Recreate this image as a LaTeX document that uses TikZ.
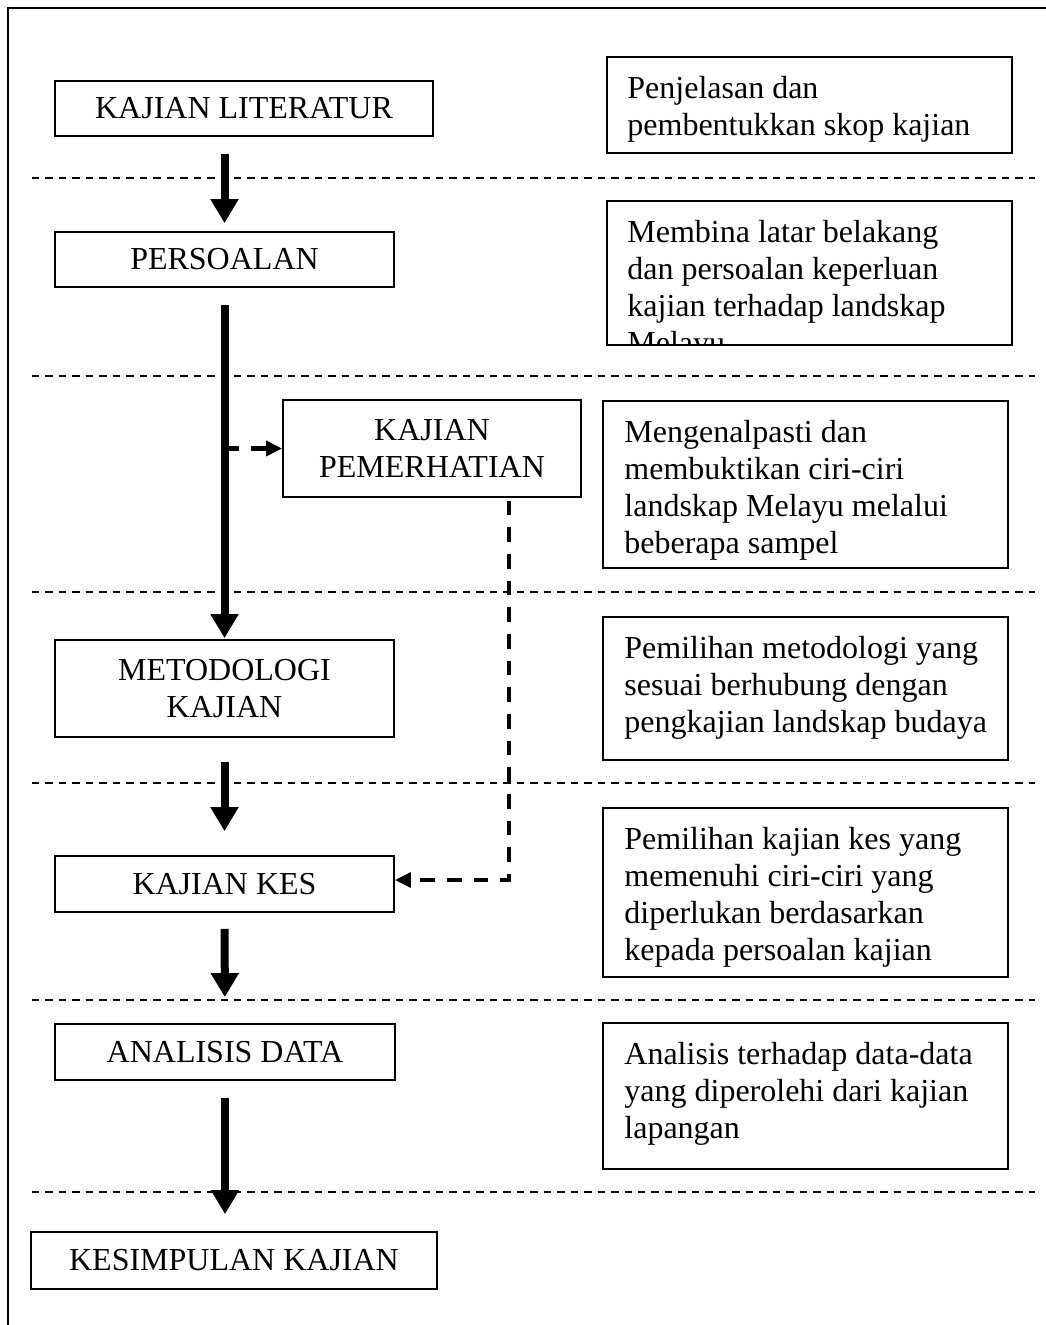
\documentclass[tikz,border=0pt]{standalone}
\usepackage{fontspec}
\setmainfont{Liberation Serif}
\usetikzlibrary{arrows.meta}
\begin{document}
\begin{tikzpicture}[x=0.75pt,y=-0.75pt,font=\fontsize{24pt}{27.75pt}\selectfont,
	kotak/.style={draw,line width=1.3pt,inner sep=0pt,align=center},
	nota/.style={draw,line width=1.3pt,inner sep=0pt,minimum width=303.75pt},
	teks/.style={inner sep=0pt,anchor=north west,align=left},
	panah/.style={line width=6pt,-{Triangle[length=18pt,width=20pt]}},
	putus/.style={line width=3.5pt,dash pattern=on 11pt off 9pt,-{Triangle[length=12pt,width=11pt]}},
	garis/.style={line width=1.2pt,dash pattern=on 5.6pt off 4.5pt}]
	\useasboundingbox (0,0) rectangle (1046,1325);
	\draw[line width=1.5pt] (8,1325) -- (8,8) -- (1046,8);
	% garis pemisah
	\foreach \y in {178,376,592,783,1000,1192}
		\draw[garis] (32,\y) -- (1035,\y);
	% kotak kiri
	\node[kotak,minimum width=283.5pt,minimum height=41.25pt] (lit) at (244,108.5) {KAJIAN LITERATUR};
	\node[kotak,minimum width=254.25pt,minimum height=41.25pt] (soal) at (224.5,259.5) {PERSOALAN};
	\node[kotak,minimum width=223.5pt,minimum height=72.75pt] (pemer) at (432,448.5) {KAJIAN\\PEMERHATIAN};
	\node[kotak,minimum width=254.25pt,minimum height=72.75pt] (metod) at (224.5,688.5) {METODOLOGI\\KAJIAN};
	\node[kotak,minimum width=254.25pt,minimum height=42pt] (kes) at (224.5,884) {KAJIAN KES};
	\node[kotak,minimum width=255pt,minimum height=42pt] (data) at (225,1052) {ANALISIS DATA};
	\node[kotak,minimum width=304.5pt,minimum height=42.75pt] (simpul) at (234,1260.5) {KESIMPULAN KAJIAN};
	% kotak kanan
	\node[nota,minimum height=72pt] (n1) at (809.5,105) {};
	\node[nota,minimum height=108pt] (n2) at (809.5,273) {};
	\node[nota,minimum height=125.25pt] (n3) at (805.5,484.5) {};
	\node[nota,minimum height=107.25pt] (n4) at (805.5,688.5) {};
	\node[nota,minimum height=126.75pt] (n5) at (805.5,892.5) {};
	\node[nota,minimum height=109.5pt] (n6) at (805.5,1096) {};
	\node[teks] (t1) at ([xshift=15.75pt,yshift=-15pt]n1.north west) {Penjelasan dan\\pembentukkan skop kajian};
	\begin{scope}
		\clip (n2.north west) rectangle (n2.south east);
		\node[teks] (t2) at ([xshift=15.75pt,yshift=-15pt]n2.north west) {Membina latar belakang\\dan persoalan keperluan\\kajian terhadap landskap\\Melayu};
	\end{scope}
	\node[teks] (t3) at ([xshift=16.5pt,yshift=-15pt]n3.north west) {Mengenalpasti dan\\membuktikan ciri-ciri\\landskap Melayu melalui\\beberapa sampel};
	\node[teks] (t4) at ([xshift=16.5pt,yshift=-15pt]n4.north west) {Pemilihan metodologi yang\\sesuai berhubung dengan\\pengkajian landskap budaya};
	\node[teks] (t5) at ([xshift=16.5pt,yshift=-15pt]n5.north west) {Pemilihan kajian kes yang\\memenuhi ciri-ciri yang\\diperlukan berdasarkan\\kepada persoalan kajian};
	\node[teks] (t6) at ([xshift=16.5pt,yshift=-15pt]n6.north west) {Analisis terhadap data-data\\yang diperolehi dari kajian\\lapangan};
	% anak panah
	\draw[panah,shorten <=12.75pt,shorten >=6pt] (lit.south -| soal.north) -- (soal.north);
	\draw[panah,shorten <=12.75pt,shorten >=0.75pt] (soal.south) -- (metod.north);
	\draw[panah,shorten <=18pt,shorten >=18pt] (metod.south) -- (kes.north);
	\draw[panah,shorten <=12pt,shorten >=19.5pt] (kes.south) -- (data.north);
	\draw[panah,shorten <=12.75pt,shorten >=12.75pt] (data.south) -- (data.south |- simpul.north);
	\coordinate (sudut) at (509,880);
	\draw[putus] (soal.south |- pemer.west) -- (pemer.west);
	\draw[putus,shorten <=2pt] (pemer.south -| sudut) -- (sudut) -- (sudut -| kes.east);
\end{tikzpicture}
\end{document}
